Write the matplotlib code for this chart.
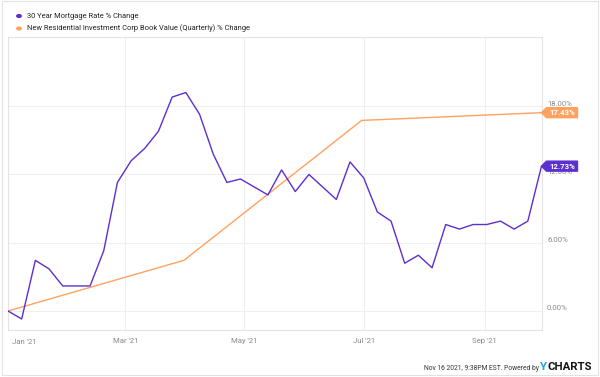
import numpy as np
import pandas as pd
import matplotlib
matplotlib.use('Agg')
from matplotlib import pyplot as plt
import matplotlib.dates as mdates
import matplotlib.transforms as mtransforms
from matplotlib.patches import Polygon, Rectangle

plt.rcParams['font.family'] = ['Roboto', 'DejaVu Sans']

# weekly 30 year mortgage rate, % change since Dec 31 2020
mortgage_dates = pd.date_range('2020-12-31', periods=40, freq='7D')
mortgage_pct = [0, -0.7, 4.45, 3.7, 2.2, 2.2, 2.2, 5.3, 11.3, 13.2,
                14.3, 15.8, 18.8, 19.2, 17.3, 13.8, 11.3, 11.6, 10.9, 10.2,
                12.4, 10.5, 12.0, 10.9, 9.8, 13.1, 11.7, 8.7, 7.9, 4.2,
                4.9, 3.8, 7.6, 7.2, 7.6, 7.6, 7.9, 7.2, 7.9, 12.73]

# quarterly book value, % change
book_dates = pd.to_datetime(['2020-12-31', '2021-03-31', '2021-06-30', '2021-09-30'])
book_pct = [0, 4.45, 16.75, 17.43]

series_names = ['30 Year Mortgage Rate % Change',
                'New Residential Investment Corp Book Value (Quarterly) % Change']
y_ticks = [0, 6, 12, 18]
x_ticks = ['2021-03-01', '2021-05-01', '2021-07-01', '2021-09-01']
x_labels = ["Mar '21", "May '21", "Jul '21", "Sep '21"]

purple = '#5b2fd0'
orange = '#ffa15f'
W, H = 600, 377

fig = plt.figure(figsize=(W / 100, H / 100), dpi=100)
ax = fig.add_axes([8 / W, 1 - 330 / H, (541.5 - 8) / W, (330 - 37) / H])

ax.plot(book_dates, book_pct, color=orange, lw=1.0, zorder=3)
ax.plot(mortgage_dates, mortgage_pct, color=purple, lw=1.0, zorder=4)

ax.set_xlim(pd.Timestamp('2020-12-31'), pd.Timestamp('2021-09-30'))
ax.set_ylim(-1.67, 24.08)

ax.set_yticks(y_ticks)
ax.set_yticklabels(['%.2f%%' % v for v in y_ticks])
ax.yaxis.tick_right()
ax.set_xticks(pd.to_datetime(x_ticks))
ax.set_xticklabels(x_labels)
ax.tick_params(length=0, labelsize=5.6, colors='#8a8a8a')
ax.tick_params(axis='y', pad=4)
ax.tick_params(axis='x', pad=6)
# y labels sit a little above their gridlines
up = mtransforms.ScaledTranslation(0, 3 / 100, fig.dpi_scale_trans)
for lab in ax.get_yticklabels():
    lab.set_transform(lab.get_transform() + up)
ax.annotate("Jan '21", xy=(0.008, 0), xycoords='axes fraction', xytext=(0, -8.8),
            textcoords='offset points', ha='left', va='center', fontsize=5.6, color='#8a8a8a')

ax.grid(True, color='#efefef', lw=0.8)
ax.set_axisbelow(True)
for s in ax.spines.values():
    s.set_color('#e4e4e4')
    s.set_linewidth(0.8)

# value tags on the right
def tag(x, y, txt, col):
    tr = fig.dpi_scale_trans + mtransforms.ScaledTranslation(mdates.date2num(x), y, ax.transData)
    pts = np.array([[0, 0], [5, 5], [36, 5], [36, -5], [5, -5]]) / 100
    ax.add_patch(Polygon(pts, closed=True, transform=tr, color=col, clip_on=False, zorder=6))
    ax.text(0.205, 0, txt, transform=tr, ha='center', va='center', color='white',
            fontsize=5.6, fontweight='bold', zorder=7, clip_on=False)

tag(book_dates[-1], book_pct[-1], '%.2f%%' % book_pct[-1], orange)
tag(mortgage_dates[-1], mortgage_pct[-1], '%.2f%%' % mortgage_pct[-1], purple)

# legend
for i, (name, col) in enumerate(zip(series_names, [purple, orange])):
    yy = 1 - (16 + 12.5 * i) / H
    fig.patches.append(plt.Circle((19 / W, yy), 2.2 / W, transform=fig.transFigure, color=col))
    fig.text(27 / W, yy, name, fontsize=5.4, color='#222222', va='center', ha='left')

# footer
fig.text(539 / W, 1 - 368 / H, 'Nov 16 2021, 9:38PM EST. Powered by', fontsize=4.9,
         color='#333333', ha='right', va='center')
fig.text(539.5 / W, 1 - 367.5 / H, 'Y', fontsize=8.2, color='#1ea1f2', ha='left', va='center',
         fontweight='bold')
fig.text(547 / W, 1 - 367.5 / H, 'CHARTS', fontsize=8.2, color='#111111', ha='left',
         va='center', fontweight='bold')

# outer frame
fig.patches.append(Rectangle((1.5 / W, 2 / H), 596.5 / W, 374 / H, transform=fig.transFigure,
                             fill=False, ec='#e2e2e2', lw=0.8))

fig.savefig('out.png', dpi=100)
